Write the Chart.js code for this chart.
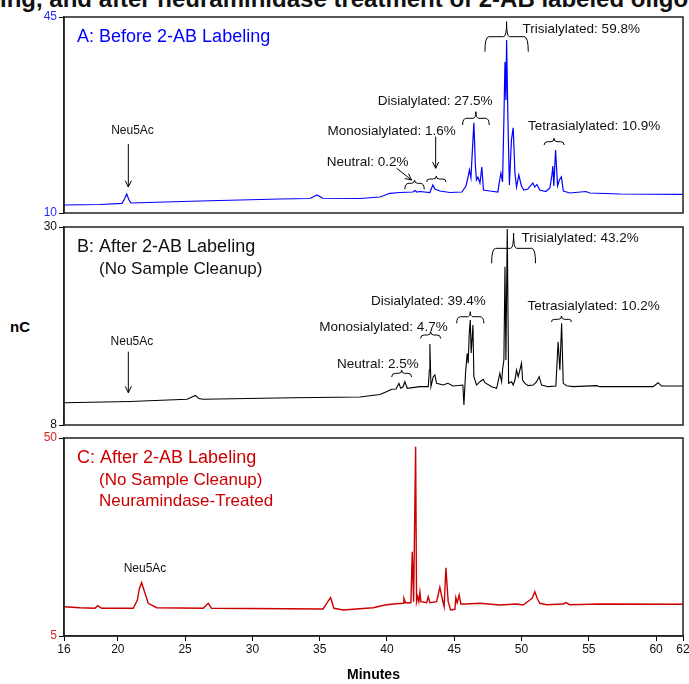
<!DOCTYPE html>
<html lang="en">
<head>
<meta charset="UTF-8">
<title>2-AB labeled glycans - chromatograms</title>
<script src="https://cdn.jsdelivr.net/npm/chart.js"></script>
<style>
  body { margin: 0; width: 689px; height: 684px; overflow: hidden; background: #fff; position: relative;
         font-family: "Liberation Sans", Arial, sans-serif; }
  canvas { position: absolute; left: 0; }
  #title { position: absolute; left: 0; top: -13px; font: bold 24px "Liberation Sans", Arial, sans-serif;
           line-height: 24px; white-space: nowrap; color: #111; }
  #ylab { position: absolute; left: 10px; top: 318px; font: bold 15px "Liberation Sans", Arial, sans-serif; }
</style>
</head>
<body>
<div id="title">ing, and after neuraminidase treatment of 2-AB labeled oligosaccharides</div>
<div id="ylab">nC</div>
<canvas id="chartA" width="700" height="223" style="top:0"></canvas>
<canvas id="chartB" width="700" height="222" style="top:213px"></canvas>
<canvas id="chartC" width="700" height="259" style="top:425px"></canvas>

<script>
// x axis (minutes)
const xTicks = [16, 20, 25, 30, 35, 40, 45, 50, 55, 60, 62];

// A: before 2-AB labeling
const timeA = [16, 18.67, 20.31, 20.49, 20.66, 20.83, 20.98, 26.1, 32.05, 34.28, 34.8, 35.24, 37.99, 39.48, 40.22,
  40.96, 41.93, 42.08, 42.23, 42.45, 43.19, 43.41, 43.56, 43.93, 44.68, 45.57, 45.87, 46.01, 46.13, 46.24, 46.31,
  46.46, 46.57, 46.65, 46.76, 46.91, 47.05, 47.17, 47.65, 48.24, 48.39, 48.47, 48.59, 48.69, 48.77, 48.84, 48.89,
  48.99, 49.1, 49.25, 49.38, 49.51, 49.63, 49.8, 49.99, 50.17, 50.47, 50.84, 50.99, 51.14, 51.36, 51.81, 52.11,
  52.26, 52.33, 52.4, 52.53, 52.68, 52.81, 52.96, 53.11, 53.59, 54.78, 55.08, 57.31, 62];
const nCA = [11.43, 11.52, 11.73, 12.5, 13.39, 12.32, 11.79, 12.14, 12.5, 12.59, 13.21, 12.63, 12.59, 12.86, 13.52,
  13.66, 13.75, 14.02, 13.75, 13.84, 13.66, 15.0, 14.29, 13.93, 13.66, 13.75, 14.82, 16.25, 17.68, 16.25, 19.46,
  26.13, 18.57, 15.89, 16.43, 15.36, 18.21, 14.11, 13.93, 13.75, 16.07, 17.14, 15.54, 26.6, 36.96, 30.18, 40.89,
  26.6, 15.0, 23.04, 25.23, 17.14, 14.64, 16.79, 14.82, 14.11, 14.29, 15.36, 14.64, 15.09, 14.11, 13.84, 14.46,
  16.79, 18.39, 14.82, 21.25, 14.82, 15.89, 16.43, 13.93, 13.57, 13.84, 13.57, 13.39, 13.34];

// B: after 2-AB labeling, no cleanup
const timeB = [16, 20.9, 25.14, 25.51, 25.77, 26.03, 26.33, 33.01, 37.99, 39.48, 40.0, 40.35, 40.67, 40.89, 41.02,
  41.19, 41.33, 41.51, 42.45, 43.07, 43.15, 43.19, 43.27, 43.44, 43.56, 43.69, 44.18, 44.53, 44.92, 45.64, 45.72,
  45.84, 45.96, 46.04, 46.11, 46.19, 46.26, 46.39, 46.46, 46.66, 46.91, 47.15, 47.28, 47.78, 48.15, 48.39, 48.52,
  48.59, 48.69, 48.77, 48.84, 48.94, 49.04, 49.26, 49.38, 49.51, 49.63, 49.75, 49.88, 50.0, 50.08, 50.25, 50.49,
  50.87, 51.12, 51.31, 51.49, 51.98, 52.55, 52.72, 52.85, 52.98, 53.1, 53.35, 53.84, 55.58, 55.82, 59.78, 60.15,
  60.4, 62];
const nCB = [10.48, 10.61, 10.86, 11.11, 11.28, 10.94, 10.86, 11.03, 11.11, 11.39, 11.72, 11.97, 12.0, 12.63, 12.08,
  12.22, 12.81, 12.08, 12.26, 12.26, 14.11, 17.0, 12.26, 13.37, 13.56, 12.63, 12.44, 12.63, 12.33, 12.44, 10.22,
  13.74, 15.97, 14.86, 18.0, 19.67, 16.0, 19.11, 13.37, 12.44, 12.81, 13.08, 12.7, 12.26, 12.08, 13.74, 12.81,
  14.11, 15.22, 25.59, 15.22, 29.78, 12.63, 12.81, 12.44, 13.0, 14.11, 13.37, 14.11, 14.86, 13.0, 12.63, 12.37,
  12.44, 12.81, 13.37, 12.44, 12.26, 12.33, 17.26, 14.11, 19.3, 12.63, 12.37, 12.26, 12.37, 12.26, 12.26, 12.7,
  12.33, 12.33];

// C: after labeling, neuraminidase treated
const timeC = [16, 17.19, 18.3, 18.5, 18.8, 21.15, 21.45, 21.61, 21.77, 22.02, 22.26, 22.89, 26.35, 26.72, 26.97,
  35.26, 35.52, 35.81, 36.06, 36.75, 38.98, 39.85, 40.46, 41.21, 41.26, 41.38, 41.78, 41.88, 41.98, 42.13, 42.2,
  42.28, 42.37, 42.45, 42.52, 42.95, 43.07, 43.19, 43.69, 43.93, 44.13, 44.25, 44.38, 44.55, 44.73, 45.05, 45.12,
  45.22, 45.37, 45.49, 45.92, 46.91, 48.39, 49.63, 50.12, 50.62, 50.79, 50.99, 51.16, 51.36, 51.86, 53.09, 53.29,
  53.59, 55.82, 62];
const nCC = [11.66, 11.43, 11.3, 11.89, 11.3, 11.3, 13.18, 15.91, 17.12, 14.71, 12.43, 11.43, 11.3, 12.43, 11.3,
  11.14, 12.43, 13.71, 11.3, 10.91, 11.43, 12.05, 12.27, 12.43, 13.57, 12.57, 12.57, 24.16, 12.8, 48.03, 12.8,
  13.93, 12.8, 14.93, 12.8, 12.57, 13.93, 12.57, 12.8, 16.07, 13.18, 11.66, 20.52, 12.8, 10.91, 11.07, 13.71,
  12.57, 14.32, 12.27, 12.27, 12.43, 12.05, 12.27, 12.05, 13.18, 13.57, 15.07, 13.57, 12.43, 12.11, 12.27, 12.61,
  12.11, 12.27, 12.2];

const BLUE = '#0000ff', RED = '#cc0000';

// annotations, anchored in data units (minutes, nC)
const notesA = [
  { type: 'text', text: 'A: Before 2-AB Labeling', x: 16.97, y: 41.43, size: 18, color: BLUE },
  { type: 'text', text: 'Neu5Ac', x: 21.09, y: 24.64, align: 'center', size: 12 },
  { type: 'arrow', x1: 20.78, y1: 22.32, x2: 20.78, y2: 14.64 },
  { type: 'text', text: 'Neutral: 0.2%', x: 35.52, y: 18.98 },
  { type: 'arrow', x1: 40.72, y1: 17.98, x2: 41.83, y2: 15.89 },
  { type: 'brace', x1: 41.33, x2: 42.77, y: 15.3, end: 14.23, nub: 15.89 },
  { type: 'text', text: 'Monosialylated: 1.6%', x: 45.12, y: 24.64, align: 'right' },
  { type: 'arrow', x1: 43.62, y1: 23.63, x2: 43.62, y2: 17.98 },
  { type: 'brace', x1: 42.95, x2: 44.38, y: 16.07, end: 15.54, nub: 16.61 },
  { type: 'text', text: 'Disialylated: 27.5%', x: 47.85, y: 29.87, align: 'right' },
  { type: 'brace', x1: 45.62, x2: 47.6, y: 26.91, end: 25.71, nub: 28.09 },
  { type: 'text', text: 'Trisialylated: 59.8%', x: 50.08, y: 42.8 },
  { type: 'brace', x1: 47.28, x2: 50.5, y: 41.48, end: 38.8, nub: 44.16 },
  { type: 'text', text: 'Tetrasialylated: 10.9%', x: 50.49, y: 25.41 },
  { type: 'brace', x1: 51.68, x2: 53.16, y: 22.73, end: 22.14, nub: 23.34 }
];
const notesB = [
  { type: 'text', text: 'B: After 2-AB Labeling', x: 16.97, y: 27.78, size: 18 },
  { type: 'text', text: '(No Sample Cleanup)', x: 18.6, y: 25.33, size: 17 },
  { type: 'text', text: 'Neu5Ac', x: 21.05, y: 17.26, align: 'center', size: 12 },
  { type: 'arrow', x1: 20.78, y1: 16.14, x2: 20.78, y2: 11.59 },
  { type: 'text', text: 'Neutral: 2.5%', x: 42.37, y: 14.78, align: 'right' },
  { type: 'brace', x1: 40.35, x2: 41.83, y: 13.74, end: 13.33, nub: 14.11 },
  { type: 'text', text: 'Monosialylated: 4.7%', x: 44.51, y: 18.85, align: 'right' },
  { type: 'brace', x1: 42.5, x2: 43.99, y: 18.0, end: 17.61, nub: 18.39 },
  { type: 'text', text: 'Disialylated: 39.4%', x: 47.35, y: 21.7, align: 'right' },
  { type: 'brace', x1: 45.18, x2: 47.2, y: 20.03, end: 19.3, nub: 20.59 },
  { type: 'text', text: 'Trisialylated: 43.2%', x: 50.0, y: 28.74 },
  { type: 'brace', x1: 47.78, x2: 51.04, y: 27.63, end: 25.97, nub: 29.3 },
  { type: 'text', text: 'Tetrasialylated: 10.2%', x: 50.45, y: 21.14 },
  { type: 'brace', x1: 52.23, x2: 53.71, y: 19.74, end: 19.44, nub: 20.11 }
];
const notesC = [
  { type: 'text', text: 'C: After 2-AB Labeling', x: 16.97, y: 45.39, size: 18, color: RED },
  { type: 'text', text: '(No Sample Cleanup)', x: 18.6, y: 40.46, size: 17, color: RED },
  { type: 'text', text: 'Neuramindase-Treated', x: 18.6, y: 35.53, size: 17, color: RED },
  { type: 'text', text: 'Neu5Ac', x: 22.02, y: 20.39, align: 'center', size: 12 }
];

const FONT = '"Liberation Sans", Arial, sans-serif';

function notesPlugin(notes) {
  return {
    id: 'panelNotes',
    afterDatasetsDraw(chart) {
      const { ctx, chartArea: a, scales: { x, y } } = chart;
      ctx.save();
      // frame
      ctx.strokeStyle = '#222';
      ctx.lineWidth = 1.5;
      ctx.strokeRect(a.left, a.top, a.right - a.left, a.bottom - a.top);
      ctx.lineWidth = 1;
      ctx.strokeStyle = '#000';
      notes.forEach(n => {
        if (n.type === 'text') {
          ctx.fillStyle = n.color || '#111';
          ctx.font = (n.size || 13.5) + 'px ' + FONT;
          ctx.textAlign = n.align || 'left';
          ctx.textBaseline = 'middle';
          ctx.fillText(n.text, x.getPixelForValue(n.x), y.getPixelForValue(n.y));
        } else if (n.type === 'arrow') {
          const x1 = x.getPixelForValue(n.x1), y1 = y.getPixelForValue(n.y1);
          const x2 = x.getPixelForValue(n.x2), y2 = y.getPixelForValue(n.y2);
          const ang = Math.atan2(y2 - y1, x2 - x1), h = 7, w = 0.45;
          ctx.beginPath();
          ctx.moveTo(x1, y1); ctx.lineTo(x2, y2);
          ctx.moveTo(x2 - h * Math.cos(ang - w), y2 - h * Math.sin(ang - w));
          ctx.lineTo(x2, y2);
          ctx.lineTo(x2 - h * Math.cos(ang + w), y2 - h * Math.sin(ang + w));
          ctx.stroke();
        } else if (n.type === 'brace') {
          const X1 = x.getPixelForValue(n.x1), X2 = x.getPixelForValue(n.x2);
          const Y = y.getPixelForValue(n.y), D = y.getPixelForValue(n.end), N = y.getPixelForValue(n.nub);
          const Xm = (X1 + X2) / 2;
          const r = Math.min(4, D - Y), r2 = Math.min(3, Y - N);
          ctx.beginPath();
          ctx.moveTo(X1, D);
          ctx.quadraticCurveTo(X1, Y, X1 + r, Y);
          ctx.lineTo(Xm - r2, Y);
          ctx.quadraticCurveTo(Xm, Y, Xm, N);
          ctx.quadraticCurveTo(Xm, Y, Xm + r2, Y);
          ctx.lineTo(X2 - r, Y);
          ctx.quadraticCurveTo(X2, Y, X2, D);
          ctx.stroke();
        }
      });
      ctx.restore();
    }
  };
}

function makePanel(id, times, values, opts) {
  const points = times.map((t, i) => ({ x: t, y: values[i] }));
  return new Chart(document.getElementById(id), {
    type: 'line',
    data: {
      datasets: [{
        data: points,
        borderColor: opts.color,
        borderWidth: opts.lineWidth,
        pointRadius: 0,
        tension: 0,
        fill: false
      }]
    },
    options: {
      responsive: false,
      animation: false,
      layout: { padding: { top: opts.padTop, bottom: opts.padBottom, left: 0, right: 17 } },
      plugins: { legend: { display: false }, tooltip: { enabled: false } },
      scales: {
        x: {
          type: 'linear',
          min: 16,
          max: 62,
          display: opts.showX,
          afterBuildTicks: s => { s.ticks = xTicks.map(v => ({ value: v })); },
          afterFit: s => { if (opts.showX) s.height = 48; },
          ticks: { color: '#111', font: { size: 12, family: FONT }, padding: 1, maxRotation: 0, autoSkip: false },
          grid: { drawOnChartArea: false, tickLength: 5, color: '#000' },
          border: { color: '#222', width: 1.5 },
          title: { display: true, text: 'Minutes', color: '#000',
                   font: { size: 14, weight: 'bold', family: FONT }, padding: { top: 0, bottom: 0 } }
        },
        y: {
          min: opts.yMin,
          max: opts.yMax,
          afterBuildTicks: s => { s.ticks = [{ value: opts.yMin }, { value: opts.yMax }]; },
          afterFit: s => { s.width = 64; },
          ticks: { color: opts.tickColor, font: { size: 12, family: FONT }, padding: 2 },
          grid: { drawOnChartArea: false, tickLength: 5, color: '#000' },
          border: { color: '#222', width: 1.5 }
        }
      }
    },
    plugins: [notesPlugin(opts.notes)]
  });
}

makePanel('chartA', timeA, nCA, { color: BLUE, lineWidth: 1.2, yMin: 10, yMax: 45, tickColor: '#2a2aff',
  showX: false, padTop: 17, padBottom: 10, notes: notesA });
makePanel('chartB', timeB, nCB, { color: '#000', lineWidth: 1.1, yMin: 8, yMax: 30, tickColor: '#111',
  showX: false, padTop: 14, padBottom: 10, notes: notesB });
makePanel('chartC', timeC, nCC, { color: RED, lineWidth: 1.4, yMin: 5, yMax: 50, tickColor: '#dd2222',
  showX: true, padTop: 13, padBottom: 0, notes: notesC });
</script>
</body>
</html>
